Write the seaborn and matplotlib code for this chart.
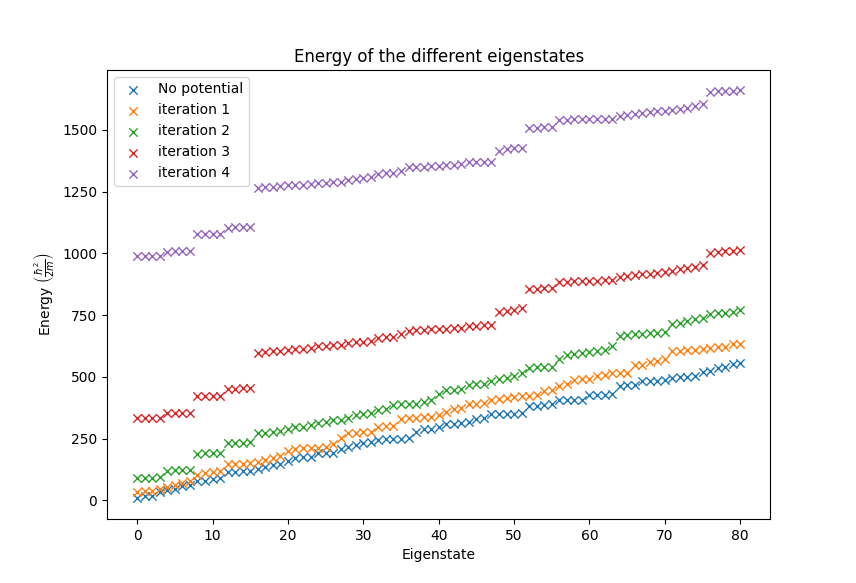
import numpy as np
import pandas as pd
import seaborn as sns
from matplotlib import pyplot as plt

eigenstate = np.arange(81)

no_potential = [8, 16, 20, 34, 43, 45, 57, 61, 78, 80, 85, 92, 115, 115, 119, 121,
                128, 135, 142, 149, 160, 170, 175, 176, 192, 192, 194, 209, 216, 223,
                232, 236, 243, 247, 248, 249, 254, 277, 290, 291, 297, 311, 311, 312,
                318, 328, 332, 349, 349, 350, 350, 352, 381, 382, 385, 389, 405, 405,
                406, 408, 426, 426, 427, 430, 462, 466, 467, 484, 484, 485, 486, 497,
                498, 499, 502, 518, 522, 535, 540, 552, 555]

iteration_1 = [36, 38, 40, 47, 55, 61, 70, 78, 101, 111, 115, 119, 146, 148, 149, 151,
               155, 162, 170, 180, 200, 209, 213, 213, 214, 215, 228, 254, 272, 275,
               277, 278, 299, 301, 302, 331, 334, 335, 336, 337, 344, 358, 372, 376,
               390, 392, 395, 405, 412, 416, 419, 422, 422, 426, 443, 446, 462, 470,
               488, 490, 492, 505, 508, 514, 515, 516, 547, 549, 561, 563, 574, 605,
               606, 607, 608, 615, 619, 620, 621, 632, 635]

iteration_2 = [90, 91, 92, 93, 121, 122, 123, 124, 190, 192, 193, 194, 231, 232, 234, 236,
               272, 274, 276, 280, 290, 297, 298, 304, 313, 318, 324, 327, 335, 344,
               351, 354, 367, 372, 385, 390, 391, 392, 399, 405, 432, 446, 449, 453,
               466, 470, 473, 484, 493, 497, 503, 516, 537, 540, 541, 542, 574, 588,
               592, 595, 601, 605, 608, 626, 665, 669, 673, 674, 676, 677, 682, 716,
               717, 727, 736, 740, 754, 757, 759, 763, 770]

iteration_3 = [332, 332, 333, 333, 352, 353, 354, 355, 422, 423, 424, 424, 452, 453, 454, 455,
               598, 600, 603, 605, 610, 612, 614, 616, 625, 627, 628, 630, 638, 640,
               642, 645, 658, 660, 662, 672, 686, 688, 690, 692, 694, 695, 697, 700,
               706, 708, 710, 712, 762, 768, 772, 778, 856, 857, 858, 860, 884, 886,
               887, 888, 889, 890, 892, 894, 905, 908, 912, 915, 918, 922, 926, 930,
               935, 940, 947, 955, 1000, 1005, 1008, 1010, 1012]

iteration_4 = [988, 988, 989, 989, 1007, 1008, 1008, 1009, 1077, 1078, 1078, 1079,
               1104, 1105, 1105, 1106, 1266, 1268, 1270, 1272, 1276, 1277, 1278, 1280,
               1285, 1286, 1288, 1290, 1297, 1301, 1304, 1308, 1321, 1324, 1327, 1335,
               1348, 1350, 1351, 1352, 1355, 1356, 1358, 1360, 1368, 1370, 1370, 1370,
               1415, 1422, 1425, 1428, 1508, 1508, 1510, 1510, 1540, 1542, 1543, 1543,
               1544, 1544, 1545, 1546, 1558, 1562, 1565, 1568, 1572, 1575, 1578, 1582,
               1585, 1590, 1595, 1604, 1655, 1657, 1658, 1658, 1660]

labels = ['No potential', 'iteration 1', 'iteration 2', 'iteration 3', 'iteration 4']
series = [no_potential, iteration_1, iteration_2, iteration_3, iteration_4]
colors = sns.color_palette('tab10', 5)

fig, ax = plt.subplots(figsize=(8.56, 5.83), dpi=100)

for label, values, c in zip(labels, series, colors):
    df = pd.DataFrame({'Eigenstate': eigenstate, 'Energy': values})
    sns.scatterplot(data=df, x='Eigenstate', y='Energy', marker='x', s=36,
                    linewidth=1, color=c, label=label, ax=ax)

ax.set_title('Energy of the different eigenstates')
ax.set_xlabel('Eigenstate')
ax.set_ylabel(r'Energy $\left(\frac{\hbar^2}{2m}\right)$')
ax.legend(loc='upper left')

plt.savefig('out.png', dpi=100)
